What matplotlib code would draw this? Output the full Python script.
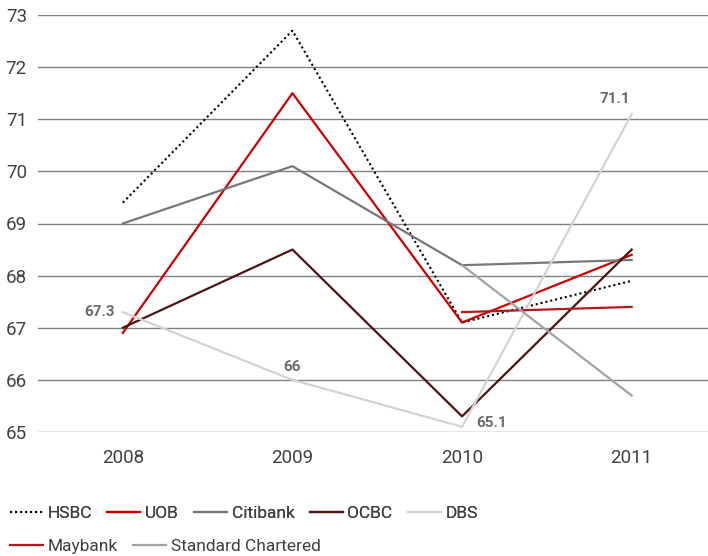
import matplotlib
matplotlib.use("Agg")
import matplotlib.pyplot as plt
import numpy as np
from matplotlib.lines import Line2D

years = ["2008", "2009", "2010", "2011"]
hsbc = [69.4, 72.7, 67.1, 67.9]
uob = [66.9, 71.5, 67.1, 68.4]
citibank = [69.0, 70.1, 68.2, 68.3]
ocbc = [67.0, 68.5, 65.3, 68.5]
dbs = [67.3, 66.0, 65.1, 71.1]
maybank = [np.nan, np.nan, 67.3, 67.4]
std_chartered = [np.nan, np.nan, 68.2, 65.7]
dbs_labels = ["67.3", "66", "65.1", "71.1"]

FONT = ["Roboto", "DejaVu Sans"]
plt.rcParams["font.family"] = FONT

fig = plt.figure(figsize=(7.08, 5.56), dpi=100)
ax = fig.add_axes([38/708, 1-432/556, 1-38/708, (432-15)/556])

x = np.arange(len(years))
series = [
    ("HSBC", hsbc, "#000000", (0, (1, 1.4)), 1.5),
    ("UOB", uob, "#cc0000", "-", 1.6),
    ("Citibank", citibank, "#777777", "-", 1.6),
    ("OCBC", ocbc, "#4d1212", "-", 1.6),
    ("DBS", dbs, "#d3d3d3", "-", 1.6),
    ("Maybank", maybank, "#b41a1a", "-", 1.6),
    ("Standard Chartered", std_chartered, "#a3a3a3", "-", 1.6),
]

for name, vals, col, ls, lw in series:
    ax.plot(x, vals, color=col, linestyle=ls, linewidth=lw, label=name, zorder=3)

ax.set_xlim(-0.5, 3.45)
ax.set_ylim(65, 73)
ax.set_yticks(range(65, 74))
ax.set_xticks(x)
ax.set_xticklabels(years)
ax.grid(axis="y", color="#808080", linewidth=1.0, zorder=0)
ax.set_axisbelow(True)
for s in ax.spines.values():
    s.set_visible(False)
ax.tick_params(axis="both", length=0, labelsize=13.5, colors="#404040")
ax.tick_params(axis="y", pad=8)
ax.tick_params(axis="x", pad=12)

offsets = [(-6, 0, "right", "center"), (0, 4, "center", "bottom"),
           (10, 3, "left", "center"), (-12, 6, "center", "bottom")]
for i, lab in enumerate(dbs_labels):
    dx, dy, ha, va = offsets[i]
    ax.annotate(lab, (x[i], dbs[i]), xytext=(dx, dy), textcoords="offset points",
                ha=ha, va=va, fontsize=11, fontweight="bold", color="#6b6b6b")

handles = [Line2D([], [], color=c, linestyle=ls, linewidth=lw) for _, _, c, ls, lw in series]
names = [s[0] for s in series]
kw = dict(frameon=False, fontsize=12.5, handlelength=1.9, handletextpad=0.25,
          columnspacing=0.9, borderaxespad=0, borderpad=0, labelcolor="#404040")
leg1 = fig.legend(handles[:5], names[:5], ncol=5, loc="center left",
                  bbox_to_anchor=(10/708, 1-513/556), **kw)
fig.add_artist(leg1)
fig.legend(handles[5:], names[5:], ncol=2, loc="center left",
           bbox_to_anchor=(10/708, 1-546/556), **kw)

fig.savefig("out.png", dpi=100)
